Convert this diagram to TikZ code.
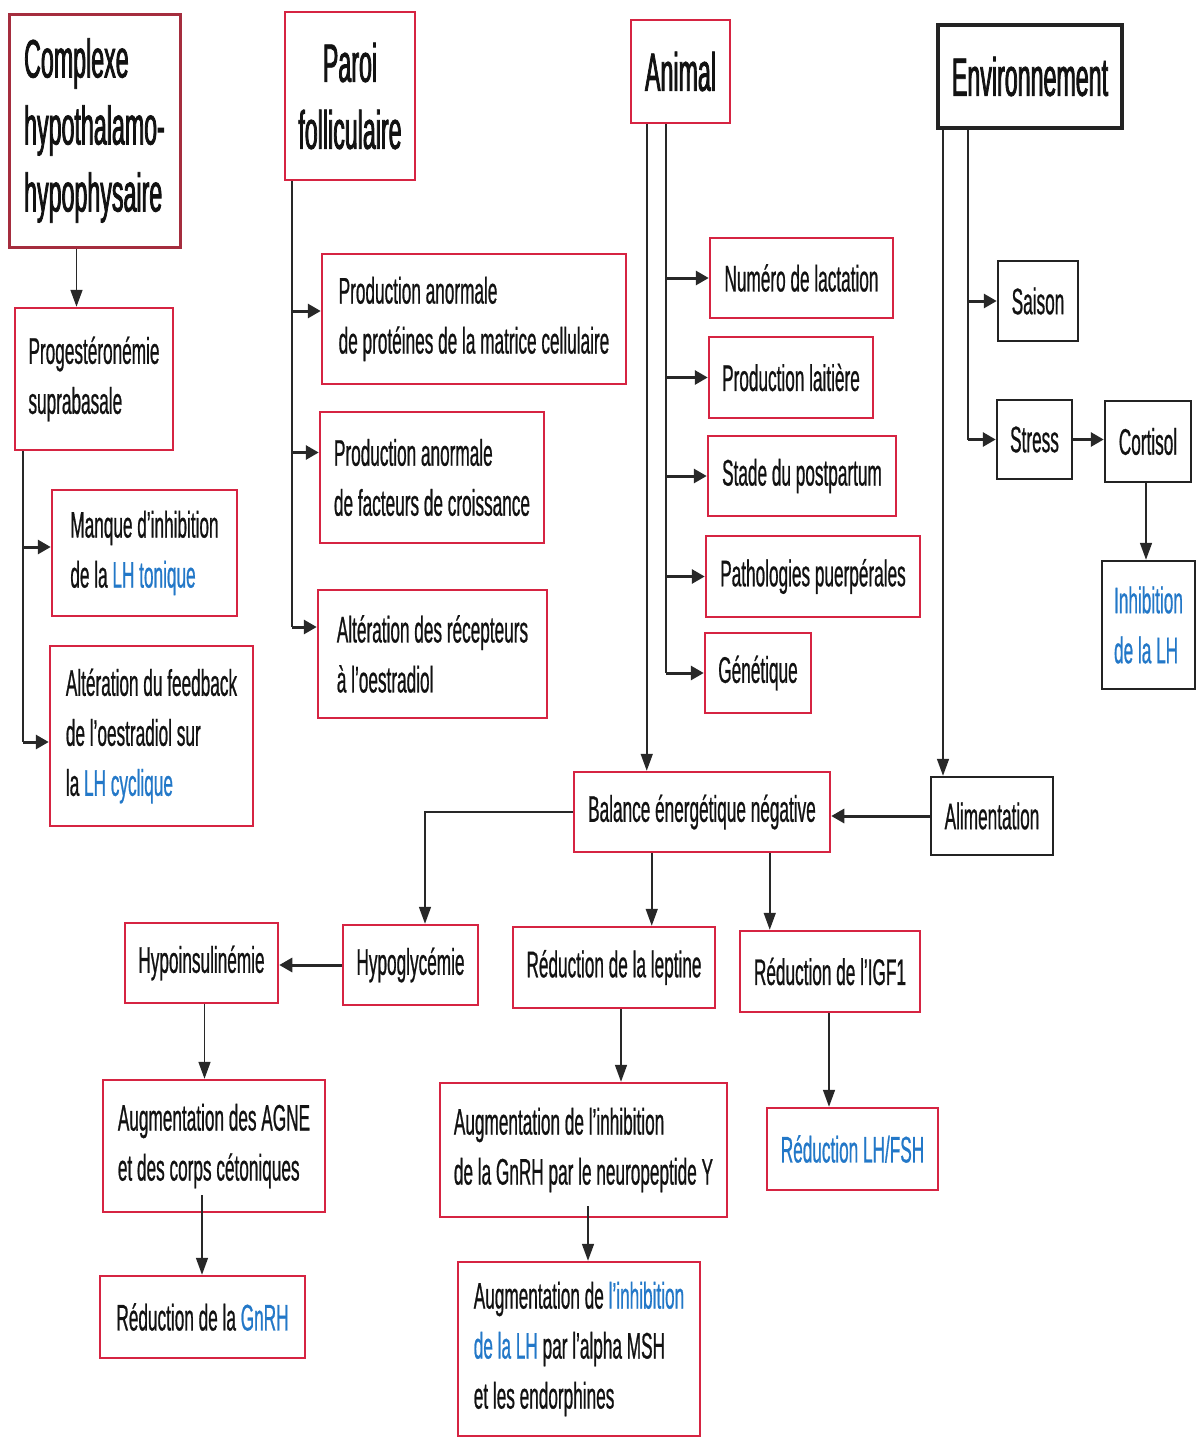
\documentclass[tikz,border=0pt]{standalone}
\usepackage{fontspec}
\setmainfont{Liberation Sans}[FakeStretch=0.465,FakeBold=0.6]
\newfontfamily\titlefont{Liberation Sans}[FakeStretch=0.43,FakeBold=1.4]
\usetikzlibrary{arrows.meta}
\definecolor{boxred}{RGB}{214,36,66}
\definecolor{boxdark}{RGB}{165,45,62}
\definecolor{boxblack}{RGB}{35,35,35}
\definecolor{lnc}{RGB}{40,40,40}
\definecolor{txt}{RGB}{18,18,18}
\definecolor{lhblue}{RGB}{35,120,200}
\newcommand{\bl}[1]{\textcolor{lhblue}{#1}}
\tikzset{
  rbox/.style={draw=boxred, line width=2.5pt, align=left, inner sep=0pt, text=txt,
    font=\fontsize{37}{50}\selectfont},
  kbox/.style={rbox, draw=boxblack},
  tbox/.style={rbox, font=\titlefont\fontsize{54}{67}\selectfont},
  conn/.style={draw=lnc, line width=1.6pt},
  arr/.style={conn, -{Triangle[length=17pt,width=12pt]}},
  barr/.style={draw=lnc, line width=3pt, -{Triangle[length=13pt,width=14pt]}}
}
\begin{document}
\begin{tikzpicture}[x=1pt,y=-1pt]
\useasboundingbox (0,0) rectangle (1196,1438);
\fill[white] (0,0) rectangle (1196,1438);

% top headers
\node[tbox, draw=boxdark, line width=3pt, minimum width=171pt, minimum height=233pt] (cplx) at (94.5,130.5) {Complexe\\hypothalamo-\\hypophysaire};
\node[tbox, align=center, minimum width=130pt, minimum height=168pt] (paroi) at (350,96) {Paroi\\folliculaire};
\node[tbox, align=center, minimum width=99pt, minimum height=103pt] (animal) at (680.5,71.5) {Animal};
\node[tbox, draw=boxblack, line width=4pt, align=center, minimum width=184pt, minimum height=103pt] (env) at (1030,76.5) {Environnement};

% left column
\node[rbox, minimum width=158pt, minimum height=142pt] (prog) at (94,379) {Progestéronémie\\suprabasale};
\node[rbox, minimum width=185pt, minimum height=126pt] (man) at (144.5,553) {Manque d’inhibition\\de la \bl{LH tonique}};
\node[rbox, minimum width=203pt, minimum height=180pt] (alt) at (151.5,736) {Altération du feedback\\de l’oestradiol sur\\la \bl{LH cyclique}};

% paroi column
\node[rbox, minimum width=304pt, minimum height=130pt] (prot) at (474,319) {Production anormale\\de protéines de la matrice cellulaire};
\node[rbox, minimum width=224pt, minimum height=131pt] (fact) at (432,477.5) {Production anormale\\de facteurs de croissance};
\node[rbox, minimum width=229pt, minimum height=128pt] (recep) at (432.5,654) {Altération des récepteurs\\à l’oestradiol};

% animal column
\node[rbox, minimum width=183pt, minimum height=80pt] (num) at (801.5,278) {Numéro de lactation};
\node[rbox, minimum width=164pt, minimum height=81pt] (lait) at (791,377.5) {Production laitière};
\node[rbox, minimum width=188pt, minimum height=80pt] (stade) at (802,476) {Stade du postpartum};
\node[rbox, minimum width=214pt, minimum height=81pt] (patho) at (813,576.5) {Pathologies puerpérales};
\node[rbox, minimum width=106pt, minimum height=80pt] (genet) at (758,673) {Génétique};

% environnement column
\node[kbox, minimum width=80pt, minimum height=80pt] (saison) at (1038,301) {Saison};
\node[kbox, minimum width=75pt, minimum height=79pt] (stress) at (1034.5,439.5) {Stress};
\node[kbox, minimum width=86pt, minimum height=81pt] (cort) at (1148,441.5) {Cortisol};
\node[kbox, minimum width=93pt, minimum height=128pt] (inh) at (1148.5,625) {\bl{Inhibition}\\\bl{de la LH}};

% middle
\node[rbox, minimum width=256pt, minimum height=80pt] (bal) at (702,812) {Balance énergétique négative};
\node[kbox, minimum width=122pt, minimum height=78pt] (alim) at (992,816) {Alimentation};

% lower rows
\node[rbox, minimum width=153pt, minimum height=80pt] (hypoi) at (201.5,963) {Hypoinsulinémie};
\node[rbox, minimum width=135pt, minimum height=80pt] (hypog) at (410.5,965) {Hypoglycémie};
\node[rbox, minimum width=202pt, minimum height=81pt] (lep) at (614,967.5) {Réduction de la leptine};
\node[rbox, minimum width=180pt, minimum height=81pt] (igf) at (830,971.5) {Réduction de l’IGF1};
\node[rbox, minimum width=222pt, minimum height=132pt] (agne) at (214,1146) {Augmentation des AGNE\\et des corps cétoniques};
\node[rbox, minimum width=287pt, minimum height=134pt] (gnrh) at (583.5,1150) {Augmentation de l’inhibition\\de la GnRH par le neuropeptide Y};
\node[rbox, minimum width=171pt, minimum height=82pt] (lhfsh) at (852.5,1149) {\bl{Réduction LH/FSH}};
\node[rbox, minimum width=205pt, minimum height=82pt] (redg) at (202.5,1317) {Réduction de la \bl{GnRH}};
\node[rbox, minimum width=242pt, minimum height=174pt] (msh) at (579,1349) {Augmentation de \bl{l’inhibition}\\\bl{de la LH} par l’alpha MSH\\et les endorphines};

% connectors: complexe
\coordinate (cA) at ([xshift=-18pt]cplx.south);
\draw[arr] (cA) -- (cA |- prog.north);
\coordinate (pL) at ([xshift=9pt]prog.south west);
\coordinate (manA) at ([yshift=6pt]man.west);
\coordinate (altA) at ([yshift=-6pt]alt.west);
\draw[conn] (pL) -- (pL |- altA);
\draw[barr] (pL |- manA) -- (manA);
\draw[barr] (pL |- altA) -- (altA);

% paroi
\coordinate (fL) at ([xshift=8pt]paroi.south west);
\coordinate (protA) at ([yshift=8pt]prot.west);
\coordinate (factA) at ([yshift=25pt]fact.west);
\coordinate (recA) at ([yshift=27pt]recep.west);
\draw[conn] (fL) -- (fL |- recA);
\draw[barr] (fL |- protA) -- (protA);
\draw[barr] (fL |- factA) -- (factA);
\draw[barr] (fL |- recA) -- (recA);

% animal
\coordinate (aL) at ([xshift=17pt]animal.south west);
\coordinate (aR) at ([xshift=36pt]animal.south west);
\draw[arr] (aL) -- (aL |- bal.north);
\draw[conn] (aR) -- (aR |- genet.west);
\draw[barr] (aR |- num.west) -- (num.west);
\draw[barr] (aR |- lait.west) -- (lait.west);
\draw[barr] (aR |- stade.west) -- (stade.west);
\draw[barr] (aR |- patho.west) -- (patho.west);
\draw[barr] (aR |- genet.west) -- (genet.west);

% environnement
\coordinate (eL) at ([xshift=7pt]env.south west);
\coordinate (eR) at ([xshift=32pt]env.south west);
\draw[arr] (eL) -- (eL |- alim.north);
\draw[conn] (eR) -- (eR |- stress.west);
\draw[barr] (eR |- saison.west) -- (saison.west);
\draw[barr] (eR |- stress.west) -- (stress.west);
\draw[barr] (stress.east) -- (stress.east -| cort.west);
\coordinate (cB) at ([xshift=-2pt]cort.south);
\draw[arr] (cB) -- (cB |- inh.north);

% balance
\coordinate (hgA) at ([xshift=14.5pt]hypog.north);
\coordinate (bL) at ([xshift=79pt]bal.south west);
\coordinate (bR) at ([xshift=197pt]bal.south west);
\draw[barr] (alim.west) -- (alim.west -| bal.east);
\draw[arr] (bal.west) -| (hgA);
\draw[arr] (bL) -- (bL |- lep.north);
\draw[arr] (bR) -- (bR |- igf.north);

% lower
\coordinate (hiB) at ([xshift=3pt]hypoi.south);
\coordinate (agB) at ([xshift=-12pt,yshift=18pt]agne.south);
\coordinate (lpB) at ([xshift=7pt]lep.south);
\coordinate (gnB) at ([xshift=4.5pt,yshift=12pt]gnrh.south);
\coordinate (igB) at ([xshift=-1pt]igf.south);
\draw[barr] (hypog.west) -- (hypog.west -| hypoi.east);
\draw[arr] (hiB) -- (hiB |- agne.north);
\draw[arr] (agB) -- (agB |- redg.north);
\draw[arr] (lpB) -- (lpB |- gnrh.north);
\draw[arr] (gnB) -- (gnB |- msh.north);
\draw[arr] (igB) -- (igB |- lhfsh.north);
\end{tikzpicture}
\end{document}
